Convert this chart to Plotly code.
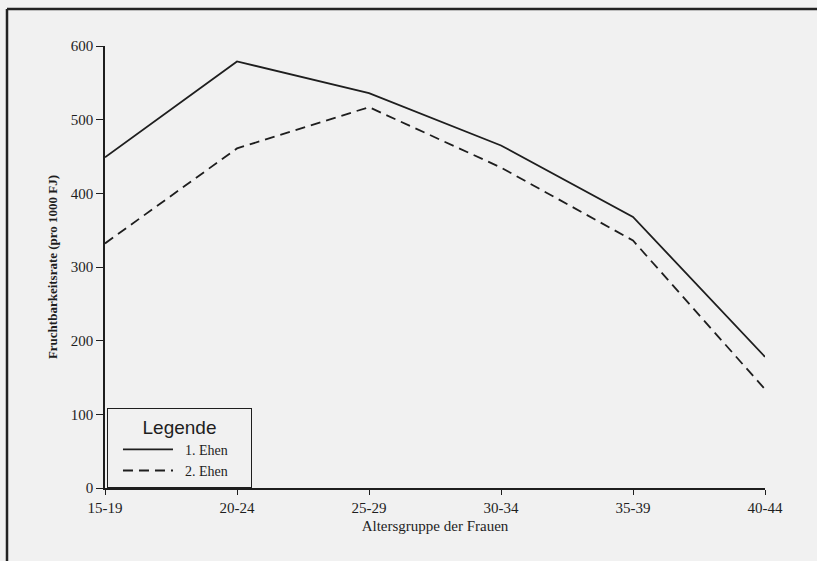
import plotly.graph_objects as go

age_groups = ["15-19", "20-24", "25-29", "30-34", "35-39", "40-44"]
first_marriages = [449, 579, 536, 465, 368, 178]
second_marriages = [332, 461, 517, 435, 336, 134]
y_ticks = [0, 100, 200, 300, 400, 500, 600]
series_names = ["1. Ehen", "2. Ehen"]

serif = "Liberation Serif, Times New Roman, serif"
ink = "#1e1e1e"
bg = "#f1f1f1"
pad = "\u00a0" * 5

fig = go.Figure()
fig.add_trace(go.Scatter(
    x=list(range(len(age_groups))), y=first_marriages, mode="lines",
    name="\u00a0\u00a0" + series_names[0] + pad, line=dict(color=ink, width=1.8)))
fig.add_trace(go.Scatter(
    x=list(range(len(age_groups))), y=second_marriages, mode="lines",
    name="\u00a0\u00a0" + series_names[1] + pad, line=dict(color=ink, width=1.8, dash="10px,6px")))

L, R, T, B = 105, 52, 46, 73
W, H = 817, 561
pw, ph = W - L - R, H - T - B

def px_to_paper_x(px):
    return (px - L) / pw

def px_to_paper_y(py):
    return 1 - (py - T) / ph

fig.add_shape(type="line", xref="paper", yref="paper",
              x0=px_to_paper_x(7), x1=px_to_paper_x(W + 5),
              y0=px_to_paper_y(9), y1=px_to_paper_y(9),
              line=dict(color="#222", width=2.5))
fig.add_shape(type="line", xref="paper", yref="paper",
              x0=px_to_paper_x(7), x1=px_to_paper_x(7),
              y0=px_to_paper_y(9), y1=px_to_paper_y(H + 5),
              line=dict(color="#222", width=2.5))

fig.update_layout(
    width=W, height=H,
    margin=dict(l=L, r=R, t=T, b=B),
    paper_bgcolor=bg, plot_bgcolor=bg,
    font=dict(family=serif, color=ink, size=14),
    showlegend=True,
    legend=dict(
        x=0.003, y=0, xanchor="left", yanchor="bottom",
        bgcolor=bg, bordercolor=ink, borderwidth=1,
        font=dict(family=serif, size=14, color=ink),
        title=dict(text="Legende", side="top center",
                   font=dict(family="Liberation Sans, Arial, sans-serif", size=19, color=ink)),
        tracegroupgap=0, itemwidth=50, indentation=10,
    ),
    xaxis=dict(
        range=[0, 5], tickmode="array",
        tickvals=list(range(len(age_groups))), ticktext=age_groups,
        showgrid=False, zeroline=False, showline=True,
        linecolor=ink, linewidth=1.5,
        ticks="outside", ticklen=5, tickcolor=ink, tickwidth=1,
        tickfont=dict(family=serif, size=15, color=ink),
        title=dict(text="Altersgruppe der Frauen", standoff=6,
                   font=dict(family=serif, size=15, color=ink)),
    ),
    yaxis=dict(
        range=[0, 600], tickmode="array", tickvals=y_ticks,
        showgrid=False, zeroline=False, showline=True,
        linecolor=ink, linewidth=1.5,
        ticks="outside", ticklen=7, tickcolor=ink, tickwidth=1,
        tickfont=dict(family=serif, size=15, color=ink),
        title=dict(text="<b>Fruchtbarkeitsrate (pro 1000 FJ)</b>", standoff=10,
                   font=dict(family=serif, size=13, color=ink)),
    ),
)

fig.write_html(
    "out.html",
    config={"displayModeBar": False},
    post_script="document.body.style.margin='0';document.body.style.overflow='hidden';",
)
